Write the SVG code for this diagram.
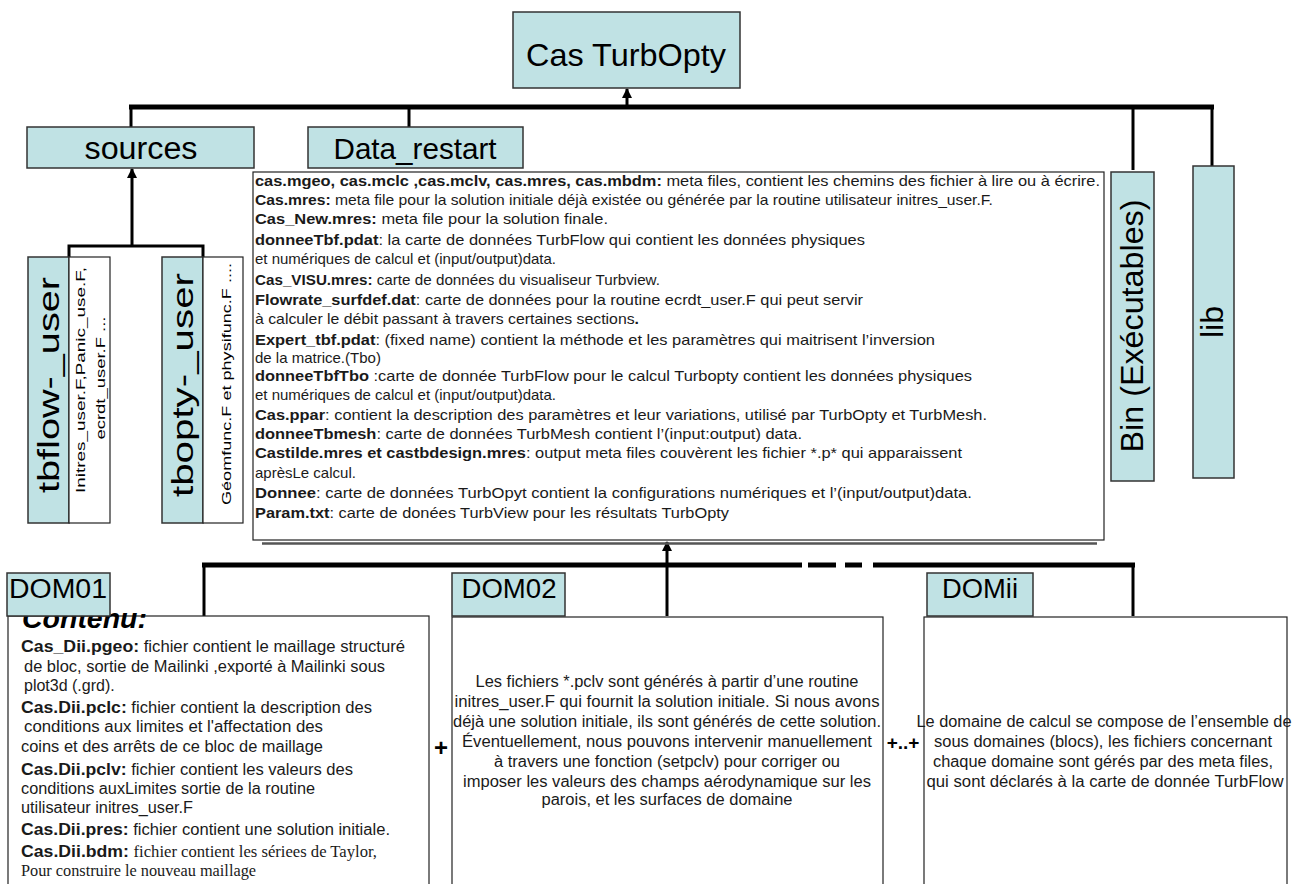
<svg xmlns="http://www.w3.org/2000/svg" width="1304" height="884" viewBox="0 0 1304 884">
<defs>
<marker id="ah" viewBox="0 0 10 10" refX="9" refY="5" markerWidth="10" markerHeight="12" markerUnits="userSpaceOnUse" orient="auto">
<path d="M0,0 L10,5 L0,10 Z" fill="#000"/>
</marker>
<style>
.teal{fill:#c0e2e4;stroke:#333;stroke-width:1.5}
.wbox{fill:#fff;stroke:#222;stroke-width:1.2}
.lbl{font-family:"Liberation Sans",Arial,sans-serif;fill:#000}
.t{font-family:"Liberation Sans",Arial,sans-serif;font-size:15px;fill:#1a1a1a}
.d{font-family:"Liberation Sans",Arial,sans-serif;font-size:16px;fill:#1a1a1a}
.b{font-weight:bold}
.s{font-family:"Liberation Serif","Times New Roman",serif;font-size:16px}
.bus{stroke:#000;stroke-width:5;fill:none}
.drop{stroke:#000;stroke-width:3;fill:none}
</style>
</defs>
<rect width="1304" height="884" fill="#fff"/>

<g id="connectors">
<line class="bus" x1="129" y1="107" x2="1214" y2="107"/>
<line class="drop" x1="131" y1="107" x2="131" y2="127"/>
<line class="drop" x1="409" y1="107" x2="409" y2="127"/>
<line class="drop" x1="1133" y1="107" x2="1133" y2="170"/>
<line class="drop" x1="1212" y1="107" x2="1212" y2="166"/>
<line x1="627" y1="105" x2="627" y2="89" stroke="#000" stroke-width="3" marker-end="url(#ah)"/>
<path d="M69,257 L69,246 L203,246 L203,257" class="drop"/>
<line x1="132" y1="246" x2="132" y2="169" stroke="#000" stroke-width="3" marker-end="url(#ah)"/>
<line class="bus" x1="202" y1="565" x2="802" y2="565"/>
<line class="bus" x1="808" y1="565" x2="836" y2="565"/>
<line class="bus" x1="845" y1="565" x2="862" y2="565"/>
<line class="bus" x1="873" y1="565" x2="1135" y2="565"/>
<line class="drop" x1="204" y1="565" x2="204" y2="616"/>
<line class="drop" x1="1133" y1="565" x2="1133" y2="616"/>
<line class="drop" x1="667" y1="616" x2="667" y2="565"/>
<line x1="667" y1="566" x2="667" y2="542" stroke="#000" stroke-width="3" marker-end="url(#ah)"/>
</g>

<g id="cas-turbopty">
<rect class="teal" x="513" y="12" width="227" height="76"/>
<text class="lbl" x="626" y="66" font-size="32" text-anchor="middle" textLength="200" lengthAdjust="spacingAndGlyphs">Cas TurbOpty</text>
</g>

<g id="sources">
<rect class="teal" x="27" y="127" width="227" height="41"/>
<text class="lbl" x="141" y="159" font-size="31" text-anchor="middle" textLength="113" lengthAdjust="spacingAndGlyphs">sources</text>
</g>

<g id="data-restart">
<rect class="teal" x="308" y="127" width="215" height="41"/>
<text class="lbl" x="415" y="159" font-size="30" text-anchor="middle" textLength="163" lengthAdjust="spacingAndGlyphs">Data_restart</text>
</g>

<g id="tbflow-user">
<rect class="teal" x="28" y="257" width="41" height="266"/>
<rect class="wbox" x="69" y="257" width="41" height="266"/>
<text class="lbl" transform="translate(59,385) rotate(-90)" x="0" y="0" font-size="30" text-anchor="middle" textLength="216" lengthAdjust="spacingAndGlyphs">tbflow-_user</text>
<text class="lbl" transform="translate(85,380) rotate(-90)" x="0" y="0" font-size="13.5" text-anchor="middle" textLength="226" lengthAdjust="spacingAndGlyphs">Initres_user.F,Panic_use.F,</text>
<text class="lbl" transform="translate(105,378) rotate(-90)" x="0" y="0" font-size="13.5" text-anchor="middle" textLength="123" lengthAdjust="spacingAndGlyphs">ecrdt_user.F ...</text>
</g>

<g id="tbopty-user">
<rect class="teal" x="162" y="257" width="41" height="266"/>
<rect class="wbox" x="203" y="257" width="40" height="266"/>
<text class="lbl" transform="translate(193,385) rotate(-90)" x="0" y="0" font-size="30" text-anchor="middle" textLength="224" lengthAdjust="spacingAndGlyphs">tbopty-_user</text>
<text class="lbl" transform="translate(231,384) rotate(-90)" x="0" y="0" font-size="13.5" text-anchor="middle" textLength="242" lengthAdjust="spacingAndGlyphs">Géomfunc.F et physifunc.F  ....</text>
</g>

<g id="data-files">
<line x1="262" y1="543.5" x2="1097" y2="543.5" stroke="#555" stroke-width="2.5"/>
<rect class="wbox" x="253" y="172" width="851" height="368"/>
<text class="t" x="255" y="186" textLength="845" lengthAdjust="spacingAndGlyphs"><tspan class="b">cas.mgeo, cas.mclc ,cas.mclv, cas.mres, cas.mbdm:</tspan> meta files, contient les chemins des fichier à lire ou à écrire.</text>
<text class="t" x="255" y="205" textLength="738" lengthAdjust="spacingAndGlyphs"><tspan class="b">Cas.mres:</tspan> meta file pour la solution initiale déjà existée ou générée par la routine utilisateur initres_user.F.</text>
<text class="t" x="255" y="224" textLength="353" lengthAdjust="spacingAndGlyphs"><tspan class="b">Cas_New.mres:</tspan> meta file pour la solution finale.</text>
<text class="t" x="255" y="245" textLength="610" lengthAdjust="spacingAndGlyphs"><tspan class="b">donneeTbf.pdat</tspan>: la carte de données TurbFlow qui contient les données physiques</text>
<text class="t" x="255" y="264">et numériques de calcul et (input/output)data.</text>
<text class="t" x="255" y="285" textLength="405" lengthAdjust="spacingAndGlyphs"><tspan class="b">Cas_VISU.mres:</tspan> carte de données du visualiseur Turbview.</text>
<text class="t" x="255" y="305" textLength="608" lengthAdjust="spacingAndGlyphs"><tspan class="b">Flowrate_surfdef.dat</tspan>: carte de données pour la routine ecrdt_user.F qui peut servir</text>
<text class="t" x="255" y="324" textLength="384" lengthAdjust="spacingAndGlyphs">à calculer le débit passant à travers certaines sections<tspan class="b">.</tspan></text>
<text class="t" x="255" y="345" textLength="680" lengthAdjust="spacingAndGlyphs"><tspan class="b">Expert_tbf.pdat</tspan>: (fixed name) contient la méthode et les paramètres qui maitrisent l’inversion</text>
<text class="t" x="255" y="363">de la matrice.(Tbo)</text>
<text class="t" x="255" y="381" textLength="717" lengthAdjust="spacingAndGlyphs"><tspan class="b">donneeTbfTbo</tspan> :carte de donnée TurbFlow pour le calcul Turbopty  contient les données physiques</text>
<text class="t" x="255" y="400">et numériques de calcul et (input/output)data.</text>
<text class="t" x="255" y="420" textLength="732" lengthAdjust="spacingAndGlyphs"><tspan class="b">Cas.ppar</tspan>: contient la description des paramètres et leur variations, utilisé par TurbOpty et TurbMesh.</text>
<text class="t" x="255" y="439" textLength="547" lengthAdjust="spacingAndGlyphs"><tspan class="b">donneeTbmesh</tspan>:  carte de données TurbMesh contient l’(input:output) data.</text>
<text class="t" x="255" y="458" textLength="707" lengthAdjust="spacingAndGlyphs"><tspan class="b">Castilde.mres et castbdesign.mres</tspan>: output meta files couvèrent les fichier *.p* qui apparaissent</text>
<text class="t" x="255" y="478">aprèsLe calcul.</text>
<text class="t" x="255" y="498" textLength="717" lengthAdjust="spacingAndGlyphs"><tspan class="b">Donnee</tspan>:  carte de données  TurbOpyt contient la configurations numériques et l’(input/output)data.</text>
<text class="t" x="255" y="518" textLength="474" lengthAdjust="spacingAndGlyphs"><tspan class="b">Param.txt</tspan>: carte de donées TurbView pour les résultats TurbOpty</text>
</g>

<g id="bin">
<rect class="teal" x="1111" y="172" width="43" height="309"/>
<text class="lbl" transform="translate(1143,326) rotate(-90)" x="0" y="0" font-size="32" text-anchor="middle" textLength="253" lengthAdjust="spacingAndGlyphs">Bin (Exécutables)</text>
</g>

<g id="lib">
<rect class="teal" x="1193" y="166" width="41" height="312"/>
<text class="lbl" transform="translate(1223,322) rotate(-90)" x="0" y="0" font-size="32" text-anchor="middle">lib</text>
</g>

<g id="dom01">
<rect class="wbox" x="8" y="616" width="421" height="290"/>
<text class="lbl" x="22" y="628" font-size="28" font-weight="bold" font-style="italic" textLength="125" lengthAdjust="spacingAndGlyphs">Contenu:</text>
<rect class="teal" x="7" y="573" width="103" height="43"/>
<text class="lbl" x="58" y="598" font-size="27" text-anchor="middle" textLength="98" lengthAdjust="spacingAndGlyphs">DOM01</text>
<text class="d" x="21" y="652" textLength="384" lengthAdjust="spacingAndGlyphs"><tspan class="b" font-size="17">Cas_Dii.pgeo:</tspan> fichier contient le maillage structuré</text>
<text class="d" x="24" y="672" textLength="361" lengthAdjust="spacingAndGlyphs">de bloc, sortie de Mailinki ,exporté à Mailinki sous</text>
<text class="d" x="24" y="691">plot3d (.grd).</text>
<text class="d" x="21" y="713" textLength="351" lengthAdjust="spacingAndGlyphs"><tspan class="b" font-size="17">Cas.Dii.pclc:</tspan> fichier contient la description des</text>
<text class="d" x="24" y="732" textLength="299" lengthAdjust="spacingAndGlyphs">conditions aux limites  et l'affectation des</text>
<text class="d" x="21" y="752" textLength="302" lengthAdjust="spacingAndGlyphs">coins et des arrêts de ce bloc de maillage</text>
<text class="d" x="21" y="775" textLength="332" lengthAdjust="spacingAndGlyphs"><tspan class="b" font-size="17">Cas.Dii.pclv:</tspan> fichier contient les valeurs des</text>
<text class="d" x="21" y="794" textLength="294" lengthAdjust="spacingAndGlyphs">conditions auxLimites sortie de la routine</text>
<text class="d" x="21" y="813" textLength="172" lengthAdjust="spacingAndGlyphs">utilisateur initres_user.F</text>
<text class="d" x="21" y="835" textLength="369" lengthAdjust="spacingAndGlyphs"><tspan class="b" font-size="17">Cas.Dii.pres:</tspan> fichier contient une solution initiale.</text>
<text class="d" x="21" y="857" textLength="356" lengthAdjust="spacingAndGlyphs"><tspan class="b" font-size="17">Cas.Dii.bdm:</tspan> <tspan class="s">fichier contient les sériees de Taylor,</tspan></text>
<text class="d s" x="21" y="876" textLength="235" lengthAdjust="spacingAndGlyphs">Pour construire le nouveau maillage</text>
</g>

<text class="lbl" x="441" y="756" font-size="24" font-weight="bold" text-anchor="middle">+</text>

<g id="dom02">
<rect class="wbox" x="452" y="617" width="431" height="290"/>
<rect class="teal" x="452" y="573" width="113" height="43"/>
<text class="lbl" x="509" y="598" font-size="27" text-anchor="middle" textLength="95" lengthAdjust="spacingAndGlyphs">DOM02</text>
<g class="d" text-anchor="middle">
<text x="667" y="687" textLength="383" lengthAdjust="spacingAndGlyphs">Les fichiers *.pclv sont générés à partir d’une routine</text>
<text x="667" y="707" textLength="425" lengthAdjust="spacingAndGlyphs">initres_user.F qui  fournit la solution initiale. Si nous avons</text>
<text x="667" y="727" textLength="428" lengthAdjust="spacingAndGlyphs">déjà une solution initiale, ils sont générés de cette solution.</text>
<text x="667" y="747" textLength="410" lengthAdjust="spacingAndGlyphs">Éventuellement, nous pouvons intervenir  manuellement</text>
<text x="667" y="767" textLength="346" lengthAdjust="spacingAndGlyphs">à travers une fonction (setpclv) pour corriger ou</text>
<text x="667" y="787" textLength="408" lengthAdjust="spacingAndGlyphs">imposer les valeurs des champs aérodynamique sur les</text>
<text x="667" y="805" textLength="251" lengthAdjust="spacingAndGlyphs">parois, et les surfaces de domaine</text>
</g>
</g>

<text class="lbl" x="903" y="749" font-size="19" font-weight="bold" text-anchor="middle">+..+</text>

<g id="domii">
<rect class="wbox" x="924" y="617" width="363" height="290"/>
<rect class="teal" x="927" y="573" width="106" height="43"/>
<text class="lbl" x="980" y="598" font-size="27" text-anchor="middle" textLength="76" lengthAdjust="spacingAndGlyphs">DOMii</text>
<g class="d" text-anchor="middle">
<text x="1104" y="727" textLength="375" lengthAdjust="spacingAndGlyphs">Le domaine de calcul se compose de l’ensemble de</text>
<text x="1103" y="747" textLength="338" lengthAdjust="spacingAndGlyphs">sous domaines (blocs), les fichiers concernant</text>
<text x="1103" y="767" textLength="340" lengthAdjust="spacingAndGlyphs">chaque domaine sont gérés par des meta files,</text>
<text x="1105" y="787" textLength="357" lengthAdjust="spacingAndGlyphs">qui sont  déclarés à la carte de donnée TurbFlow</text>
</g>
</g>
</svg>
